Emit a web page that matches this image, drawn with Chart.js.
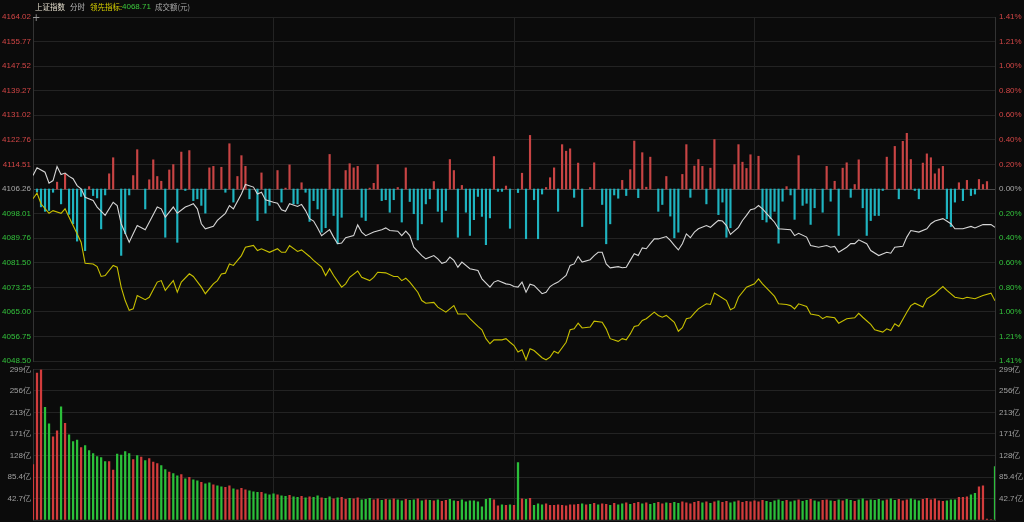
<!DOCTYPE html>
<html>
<head>
<meta charset="utf-8">
<script src="https://cdn.jsdelivr.net/npm/chart.js@4.4.1/dist/chart.umd.min.js"></script>
<style>
  body { margin: 0; background: #0b0b0b; width: 1024px; height: 522px; overflow: hidden; position: relative; }
  canvas { position: absolute; left: 0; }
  #top { top: 0; }
  #vol { top: 362px; }
  .hdr { position: absolute; top: 1px; font-size: 7.5px; font-family: "Noto Sans CJK SC", sans-serif; white-space: nowrap; }
</style>
</head>
<body>
<canvas id="top" width="1024" height="372"></canvas>
<canvas id="vol" width="1024" height="160"></canvas>
<span class="hdr" style="left:35px;color:#e2dccb">上证指数</span>
<span class="hdr" style="left:70px;color:#b8b8b8">分时</span>
<span class="hdr" style="left:90px;color:#d8d000">领先指标:</span>
<span class="hdr" style="left:122px;color:#3cc83c;font-family:'Liberation Sans',sans-serif;font-size:8px;top:2px">4068.71</span>
<span class="hdr" style="left:155px;color:#a8a8a8">成交额(元)</span>
<span class="hdr" style="left:32px;top:12px;color:#999;font-size:10px;font-family:'DejaVu Sans'">+</span>
<script>
// data
const prevClose = 4106.26;
const priceTicks = [4164.02, 4155.77, 4147.52, 4139.27, 4131.02, 4122.76, 4114.51, 4106.26,
  4098.01, 4089.76, 4081.50, 4073.25, 4065.00, 4056.75, 4048.50];
const pctTicks = ['1.41%', '1.21%', '1.00%', '0.80%', '0.60%', '0.40%', '0.20%', '0.00%',
  '0.20%', '0.40%', '0.60%', '0.80%', '1.00%', '1.21%', '1.41%'];
const volTicks = [0, 42.7, 85.4, 128.1, 170.9, 213.6, 256.3, 299];
const volLabels = ['', '42.7亿', '85.4亿', '128亿', '171亿', '213亿', '256亿', '299亿'];

// 上证指数 (white), minute -> price
const indexMin = [0,1,3,4,5,6,7,8,9,10,11,12,13,15,16,18,20,21,22,24,25,26,28,29,31,32,33,34,35,36,38,39,40,41,42,43,45,46,48,49,50,52,53,55,56,57,58,59,60,61,62,63,64,66,67,68,69,70,71,72,74,75,76,77,78,80,81,82,83,85,87,88,89,91,92,93,94,95,97,98,100,101,102,103,104,105,106,107,109,111,112,114,115,116,118,119,120,121,122,123,124,125,127,128,129,130,131,133,134,135,136,137,139,140,141,142,143,144,146,147,148,149,150,151,152,153,154,155,156,158,159,160,161,162,163,164,165,166,168,169,170,171,172,173,174,176,177,178,179,180,181,182,184,185,186,189,190,191,193,194,196,198,199,200,201,203,204,205,206,208,209,211,213,214,215,217,218,219,221,223,224,225,227,229,230,232,234,235,237,239,240];
const indexVal = [4110.8,4113.4,4111.9,4108.2,4109.1,4113.8,4111.1,4111.6,4110.5,4109.7,4107.4,4106.3,4103.5,4102.4,4100.2,4097.4,4101.8,4100.7,4094.6,4088.4,4091.2,4094.0,4092.6,4095.1,4100.2,4099.6,4096.8,4098.5,4100.2,4098.1,4100.2,4100.7,4101.3,4099.6,4094.6,4092.9,4093.7,4095.7,4098.1,4100.7,4099.6,4104.6,4107.8,4106.9,4104.6,4105.2,4102.6,4102.2,4101.8,4101.5,4099.3,4098.8,4101.3,4100.4,4101.1,4099.0,4096.3,4095.5,4093.2,4090.6,4092.6,4090.1,4087.9,4088.1,4089.9,4090.6,4094.2,4091.8,4090.6,4091.8,4092.6,4093.2,4092.3,4092.1,4090.6,4092.1,4090.6,4086.7,4083.9,4082.8,4083.9,4082.8,4081.3,4081.7,4083.4,4082.3,4080.0,4081.7,4079.5,4078.9,4076.1,4073.3,4075.0,4075.5,4074.4,4074.2,4073.5,4073.3,4075.0,4071.6,4074.3,4073.9,4071.1,4071.6,4073.5,4074.4,4075.0,4077.2,4080.6,4081.1,4083.6,4081.7,4082.5,4083.9,4085.0,4085.0,4081.1,4079.8,4080.2,4079.8,4080.0,4082.3,4084.5,4083.9,4086.5,4086.2,4087.9,4089.5,4089.5,4090.3,4089.0,4087.3,4085.8,4087.9,4091.2,4089.9,4091.8,4092.9,4094.0,4093.4,4094.6,4095.7,4095.5,4094.0,4091.0,4093.4,4095.7,4097.4,4099.3,4099.6,4100.7,4099.6,4096.6,4095.1,4092.9,4092.6,4090.6,4091.4,4090.1,4087.3,4086.7,4087.3,4086.7,4087.0,4085.0,4086.7,4087.9,4087.9,4089.2,4087.9,4085.6,4083.9,4085.0,4084.7,4086.7,4087.0,4090.1,4092.3,4091.8,4092.9,4094.6,4095.5,4096.3,4094.6,4092.9,4092.9,4093.7,4093.2,4094.3,4094.3,4093.4];

// 领先指标 (yellow), minute -> price
const leadMin = [0,1,2,4,5,7,8,9,11,12,13,15,16,17,18,20,21,22,23,24,25,26,28,29,31,32,33,34,35,36,37,39,40,42,43,45,46,47,48,49,50,52,53,55,56,57,59,61,62,63,64,66,67,69,70,72,73,74,75,77,78,79,81,82,84,85,86,88,90,91,92,93,94,96,97,98,100,101,103,104,105,106,108,109,111,112,113,114,115,117,118,119,120,121,122,123,124,125,127,128,129,130,131,133,134,135,136,137,139,140,142,143,144,146,147,148,149,150,151,152,153,155,156,157,158,160,161,162,163,164,165,166,168,169,170,171,173,174,175,176,178,180,181,182,184,185,186,188,189,190,191,193,194,196,197,198,200,201,203,205,206,207,209,210,212,213,214,215,216,218,219,220,222,223,225,226,227,228,230,232,233,235,237,239,240];
const leadVal = [4103.0,4104.9,4101.3,4098.1,4099.0,4098.1,4099.6,4096.8,4091.2,4088.4,4081.3,4081.1,4080.2,4076.9,4077.2,4080.6,4080.0,4073.3,4068.8,4065.5,4066.0,4070.5,4069.1,4069.9,4075.0,4075.5,4072.2,4073.9,4075.5,4071.6,4075.0,4077.8,4076.9,4073.3,4071.1,4074.4,4075.5,4077.7,4078.0,4081.1,4080.6,4083.9,4086.7,4087.3,4085.6,4086.2,4085.0,4086.2,4085.0,4085.0,4087.3,4085.3,4085.8,4083.6,4082.3,4080.0,4077.2,4079.5,4077.2,4073.3,4074.4,4076.6,4078.7,4076.6,4075.5,4076.6,4078.3,4078.1,4076.9,4076.9,4075.5,4076.3,4075.0,4071.6,4068.8,4067.9,4068.2,4066.6,4064.9,4066.0,4067.1,4064.3,4064.3,4062.7,4060.1,4059.0,4056.0,4054.3,4055.6,4055.6,4056.0,4054.8,4053.7,4051.5,4052.3,4048.9,4052.6,4052.0,4049.6,4048.9,4049.8,4051.8,4051.1,4054.8,4059.0,4059.3,4061.2,4059.6,4059.9,4061.9,4061.5,4059.3,4056.0,4055.1,4056.0,4055.6,4057.6,4060.1,4060.4,4062.1,4062.7,4064.9,4063.8,4063.2,4063.8,4061.5,4058.5,4059.7,4062.7,4063.0,4064.6,4066.0,4067.7,4067.5,4071.3,4070.5,4068.8,4065.7,4066.4,4069.9,4073.3,4074.4,4076.1,4074.4,4071.6,4070.2,4067.7,4067.5,4067.1,4066.0,4067.7,4066.8,4064.3,4063.8,4062.7,4063.4,4063.0,4061.2,4062.7,4063.0,4064.5,4063.2,4060.8,4059.0,4058.2,4059.3,4058.7,4061.0,4060.1,4064.9,4067.1,4067.9,4066.6,4069.4,4071.1,4072.4,4073.5,4072.2,4069.9,4069.4,4069.9,4069.4,4070.5,4071.3,4068.7];

// red / cyan bars around the previous close, minute -> offset
const powerMin = [1,2,3,4,5,6,7,8,9,10,11,12,13,14,15,16,17,18,19,20,22,23,24,25,26,28,29,30,31,32,33,34,35,36,37,38,39,40,41,42,43,44,45,47,48,49,50,51,52,53,54,56,57,58,59,61,62,63,64,65,66,67,68,69,70,71,72,73,74,75,76,77,78,79,80,81,82,83,84,85,86,87,88,89,90,91,92,93,94,95,96,97,98,99,100,101,102,103,104,105,106,107,108,109,110,111,112,113,114,115,116,117,118,119,121,122,123,124,125,126,127,128,129,130,131,132,133,134,135,136,137,139,140,142,143,144,145,146,147,148,149,150,151,152,153,154,156,157,158,159,160,161,162,163,164,165,166,167,168,169,170,171,172,173,174,175,176,177,178,179,181,182,183,184,185,186,187,188,189,190,191,192,193,194,195,197,198,199,200,201,202,203,204,205,206,207,208,209,210,211,212,213,215,216,217,218,219,220,221,222,223,224,225,226,227,228,229,230,231,232,233,234,235,236,237,238];
const powerVal = [-1.0,-6.0,-7.5,-7.2,-1.1,2.3,-5.0,5.1,-8.5,-11.7,-17.5,-2.5,-20.7,0.8,-2.2,-3.0,-13.4,-2.0,5.1,10.5,-22.3,-15.0,-2.0,4.5,13.2,-6.7,3.1,9.8,4.2,2.6,-16.2,6.4,8.2,-17.9,12.4,-0.5,12.9,-3.9,-3.3,-5.5,-8.1,7.1,7.6,7.3,-1.1,15.2,-4.4,4.2,11.2,7.6,-3.3,-10.6,5.4,-8.1,-5.5,6.2,-4.4,0.3,8.1,-5.0,-5.0,2.1,-1.1,-10.9,-3.9,-6.7,-14.5,-13.0,11.6,-8.9,-18.4,-9.5,6.2,8.5,7.1,7.6,-9.5,-10.6,0.3,1.9,8.2,-3.9,-3.6,-7.8,-3.6,0.5,-11.1,7.1,-4.2,-8.3,-17.1,-11.7,-5.0,-3.3,2.5,-7.5,-11.1,-7.2,9.9,6.2,-16.2,1.2,-7.8,-15.6,-10.3,-2.5,-9.2,-18.7,-9.7,10.9,-0.8,-0.8,1.0,-13.2,-1.2,5.3,-16.7,18.0,-3.6,-16.7,-1.7,0.5,3.8,7.1,-7.5,14.9,12.7,13.5,-2.8,8.7,-12.6,0.5,8.8,-5.2,-18.4,-11.7,-2.0,-3.1,2.9,-2.2,6.5,16.1,-2.9,12.2,0.6,10.7,-7.5,-5.2,4.2,-9.1,-16.4,-14.5,4.9,14.9,-2.8,7.7,9.9,7.6,-5.0,7.0,16.6,-8.6,-4.4,-16.2,-13.0,8.2,14.9,9.0,6.9,11.5,11.0,-10.3,-11.1,-10.0,-7.5,-18.2,-4.1,0.8,-2.0,-10.2,11.2,-5.5,-4.8,-11.9,-6.3,-7.8,7.6,-4.1,2.6,-15.6,7.0,8.8,-2.8,1.5,9.8,-6.3,-15.6,-10.6,-8.9,-8.9,-0.5,10.7,14.3,-3.3,16.0,18.7,9.9,-0.5,-3.3,8.7,11.8,10.5,5.1,6.8,7.6,-10.0,-12.6,-4.4,2.1,-3.9,2.9,-2.2,-1.7,3.2,1.5,2.5];

// 成交额 (亿) per minute, 0..240, and up/down per minute
const volume = [
  110,292,299,224,191,165,177,225,192,169,
  156,159,144,148,138,132,126,124,116,116,
  99,131,129,136,132,120,128,125,118,122,
  115,112,108,100,95,92,88,90,82,85,
  80,78,75,72,74,70,68,66,65,68,
  62,60,63,60,58,56,55,55,52,50,
  52,50,48,47,49,46,45,47,44,46,
  45,48,44,43,46,42,44,45,41,43,
  42,44,40,41,43,40,42,39,41,40,
  42,40,38,41,39,40,42,38,40,39,
  38,40,37,39,41,38,37,40,36,38,
  38,36,26,41,43,40,28,30,29,30,
  29,114,42,41,43,29,32,30,32,29,
  29,30,29,28,30,30,31,32,30,31,
  33,30,32,31,29,33,30,32,34,31,
  33,35,32,34,31,33,35,32,34,33,
  35,33,36,34,32,35,37,34,36,33,
  36,38,35,37,34,36,38,35,37,36,
  38,36,39,37,35,38,40,37,39,36,
  38,40,37,39,41,38,36,39,40,38,
  37,40,38,41,39,37,40,42,38,40,
  39,41,38,40,42,39,41,38,40,42,
  40,38,41,43,40,42,38,37,38,40,
  40,45,45,46,50,53,66,68,2,1,106];
const volDir =
  'uuudduudud' + 'dduddddddu' + 'uddddududu' + 'uudduddudu' + 'dduddudduu' +
  'duuudddudd' + 'dudduddudu' + 'ddudduduud' + 'uuddduudud' + 'udduddudud' +
  'uduudduddd' + 'ddddduudud' + 'udududdduu' + 'uuuuuuudud' + 'uduududdud' +
  'uududduudu' + 'dduuuuudud' + 'uduudduuuu' + 'uuudddddud' + 'duddudduud' +
  'ududduddud' + 'dddudduuud' + 'dduuuuuudd' + 'duuudduuuud';

const RED = '#d23c3c', GREEN = '#2bbf3a', CYAN = '#1fb4c0';
const GRID = '#232323';
const tickFont = { size: 8, family: "'Liberation Sans', Arial, sans-serif" };

function sideColor(v) {
  if (Math.abs(v - prevClose) < 0.01) return '#a8a8a8';
  return v > prevClose ? '#d24646' : '#33c23c';
}

// fixed axis widths, and no extra room for the edge labels
function fixWidth(w) {
  return s => { s.width = w; s.paddingTop = 0; s.paddingBottom = 0; };
}

const xAxis = {
  type: 'linear', min: 0, max: 240, offset: false,
  ticks: { display: false, stepSize: 60 },
  grid: { color: GRID, drawTicks: false, offset: false },
  border: { display: false },
  afterFit: s => { s.height = 0; s.paddingLeft = 0; s.paddingRight = 0; }
};

new Chart(document.getElementById('top'), {
  type: 'bar',
  data: {
    datasets: [
      {
        type: 'line',
        data: indexMin.map((m, i) => ({ x: m, y: indexVal[i] })),
        borderColor: '#d6d6d6', borderWidth: 1.1, pointRadius: 0, tension: 0, order: 0
      },
      {
        type: 'line',
        data: leadMin.map((m, i) => ({ x: m, y: leadVal[i] })),
        borderColor: '#c8c000', borderWidth: 1.1, pointRadius: 0, tension: 0, order: 1
      },
      {
        type: 'bar',
        data: powerMin.map((m, i) => ({ x: m, y: [prevClose, prevClose + powerVal[i]] })),
        backgroundColor: ctx => powerVal[ctx.dataIndex] >= 0 ? '#c84444' : CYAN,
        barThickness: 1.5, order: 2
      }
    ]
  },
  options: {
    responsive: false, animation: false,
    plugins: { legend: { display: false }, tooltip: { enabled: false } },
    layout: { padding: { top: 17, bottom: 11 } },
    scales: {
      x: xAxis,
      y: {
        position: 'left', min: 4048.5, max: 4164.02,
        afterBuildTicks: s => { s.ticks = priceTicks.map(v => ({ value: v })); },
        ticks: {
          autoSkip: false, padding: 2, font: tickFont,
          callback: (v, i) => priceTicks[i].toFixed(2),
          color: ctx => sideColor(ctx.tick.value)
        },
        grid: { color: ctx => Math.abs(ctx.tick.value - prevClose) < 0.01 ? '#4a4a4a' : GRID, drawTicks: false },
        border: { color: '#333' },
        afterFit: fixWidth(33)
      },
      y2: {
        position: 'right', min: 4048.5, max: 4164.02,
        afterBuildTicks: s => { s.ticks = priceTicks.map(v => ({ value: v })); },
        ticks: {
          autoSkip: false, padding: 4, font: tickFont,
          callback: (v, i) => pctTicks[i],
          color: ctx => sideColor(ctx.tick.value)
        },
        grid: { display: false, drawTicks: false },
        border: { color: '#333' },
        afterFit: fixWidth(29)
      }
    }
  }
});

new Chart(document.getElementById('vol'), {
  type: 'bar',
  data: {
    datasets: [{
      data: volume.map((v, i) => ({ x: i, y: v })),
      backgroundColor: ctx => volDir[ctx.dataIndex] === 'u' ? RED : GREEN,
      barThickness: 1.6
    }]
  },
  options: {
    responsive: false, animation: false,
    plugins: { legend: { display: false }, tooltip: { enabled: false } },
    layout: { padding: { top: 7.5, bottom: 2 } },
    scales: {
      x: xAxis,
      y: {
        position: 'left', min: 0, max: 299,
        afterBuildTicks: s => { s.ticks = volTicks.map(v => ({ value: v })); },
        ticks: { autoSkip: false, padding: 2, font: tickFont, color: '#a0a0a0', callback: (v, i) => volLabels[i] },
        grid: { color: GRID, drawTicks: false },
        border: { color: '#333' },
        afterFit: fixWidth(33)
      },
      y2: {
        position: 'right', min: 0, max: 299,
        afterBuildTicks: s => { s.ticks = volTicks.map(v => ({ value: v })); },
        ticks: { autoSkip: false, padding: 4, font: tickFont, color: '#a0a0a0', callback: (v, i) => volLabels[i] },
        grid: { display: false, drawTicks: false },
        border: { color: '#333' },
        afterFit: fixWidth(29)
      }
    }
  }
});
</script>
</body>
</html>
